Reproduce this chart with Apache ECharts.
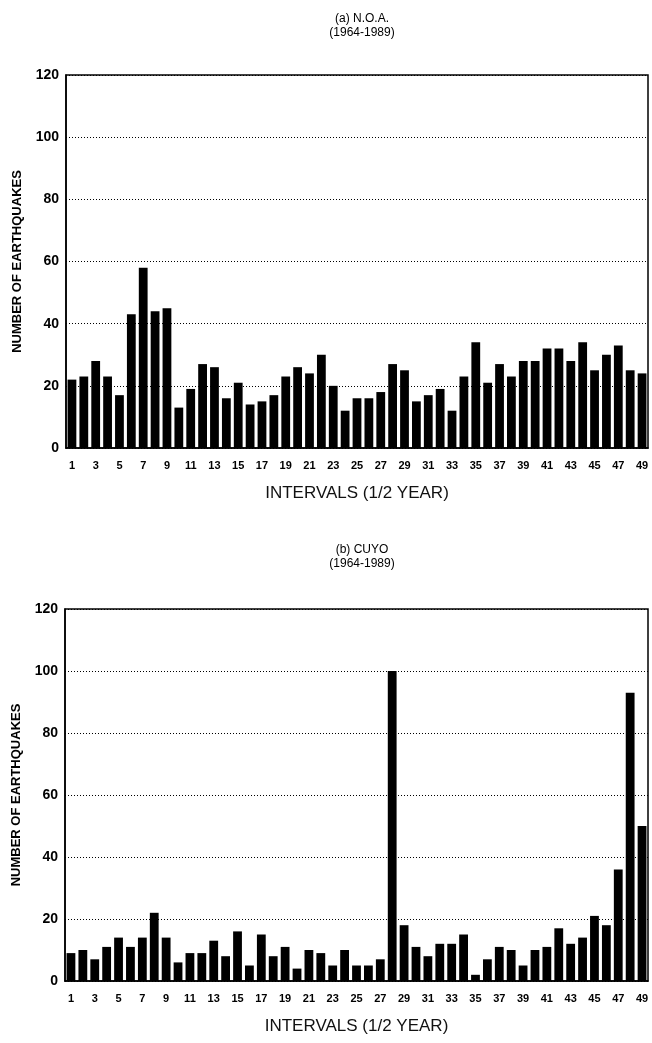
<!DOCTYPE html>
<html>
<head>
<meta charset="utf-8">
<script src="https://cdn.jsdelivr.net/npm/echarts@6/dist/echarts.min.js"></script>
<style>
  html, body { margin: 0; padding: 0; background: #fff; }
  #chart { width: 652px; height: 1043px; }
</style>
</head>
<body>
<div id="chart"></div>
<script>
// Half-year intervals 1..49
const intervals = Array.from({ length: 49 }, (_, i) => String(i + 1));

// Earthquake counts per half-year, N.O.A. region
const noaCounts = [
  22, 23, 28, 23, 17, 43, 58, 44, 45, 13,
  19, 27, 26, 16, 21, 14, 15, 17, 23, 26,
  24, 30, 20, 12, 16, 16, 18, 27, 25, 15,
  17, 19, 12, 23, 34, 21, 27, 23, 28, 28,
  32, 32, 28, 34, 25, 30, 33, 25, 24
];

// Earthquake counts per half-year, Cuyo region
const cuyoCounts = [
  9, 10, 7, 11, 14, 11, 14, 22, 14, 6,
  9, 9, 13, 8, 16, 5, 15, 8, 11, 4,
  10, 9, 5, 10, 5, 5, 7, 100, 18, 11,
  8, 12, 12, 15, 2, 7, 11, 10, 5, 10,
  11, 17, 12, 14, 21, 18, 36, 93, 50
];

const panelTitles = ['(a) N.O.A.\n(1964-1989)', '(b) CUYO\n(1964-1989)'];
const yTicks = { min: 0, max: 120, interval: 20 };
const yName = 'NUMBER OF EARTHQUAKES';
const xName = 'INTERVALS (1/2 YEAR)';

const FONT = '"Liberation Sans", Arial, sans-serif';

const grids = [
  { left: 66, right: 4, top: 75, height: 373 },
  { left: 65, right: 4, top: 609, height: 372 }
];

function xAxisFor(idx) {
  return {
    type: 'category',
    gridIndex: idx,
    data: intervals,
    name: xName,
    nameLocation: 'middle',
    nameGap: 37,
    nameTextStyle: { fontFamily: FONT, fontSize: 17, color: '#111' },
    axisLine: { show: true, lineStyle: { color: '#000', width: 1.5 } },
    axisTick: { show: false },
    axisLabel: {
      interval: 1,
      margin: 12,
      fontFamily: FONT,
      fontWeight: 'bold',
      fontSize: 11,
      color: '#000'
    },
    splitLine: { show: false }
  };
}

function yAxisFor(idx) {
  return {
    type: 'value',
    gridIndex: idx,
    min: yTicks.min,
    max: yTicks.max,
    interval: yTicks.interval,
    name: yName,
    nameLocation: 'middle',
    nameRotate: 90,
    nameGap: 42,
    nameTextStyle: { fontFamily: FONT, fontWeight: 'bold', fontSize: 13, color: '#000' },
    axisLine: { show: true, lineStyle: { color: '#000', width: 1.5 } },
    axisTick: { show: false },
    axisLabel: {
      margin: 7,
      fontFamily: FONT,
      fontWeight: 'bold',
      fontSize: 14,
      color: '#000'
    },
    splitLine: { show: true, lineStyle: { color: '#000', type: [1, 2], width: 1 } }
  };
}

function barSeries(idx, values) {
  return {
    type: 'bar',
    xAxisIndex: idx,
    yAxisIndex: idx,
    data: values,
    barCategoryGap: '26%',
    itemStyle: { color: '#000' },
    silent: true
  };
}

const chart = echarts.init(document.getElementById('chart'), null, { renderer: 'canvas' });
chart.setOption({
  animation: false,
  backgroundColor: '#fff',
  title: [
    {
      text: panelTitles[0],
      left: 357, top: 7, textAlign: 'center',
      textStyle: { fontFamily: FONT, fontSize: 12, fontWeight: 'normal', color: '#000', lineHeight: 14 }
    },
    {
      text: panelTitles[1],
      left: 357, top: 538, textAlign: 'center',
      textStyle: { fontFamily: FONT, fontSize: 12, fontWeight: 'normal', color: '#000', lineHeight: 14 }
    }
  ],
  grid: grids.map(g => Object.assign({ show: true, borderColor: '#000', borderWidth: 1.5, backgroundColor: 'transparent' }, g)),
  xAxis: [xAxisFor(0), xAxisFor(1)],
  yAxis: [yAxisFor(0), yAxisFor(1)],
  series: [barSeries(0, noaCounts), barSeries(1, cuyoCounts)]
});
</script>
</body>
</html>
